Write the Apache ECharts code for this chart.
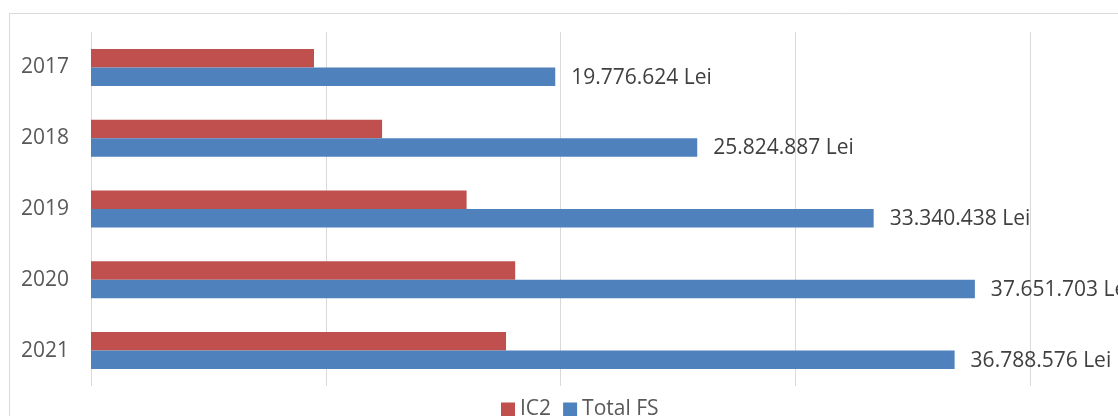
<!DOCTYPE html>
<html>
<head>
    <meta charset="utf-8">
    <script type="text/javascript" src="https://cdn.jsdelivr.net/npm/echarts@6/dist/echarts.min.js"></script>
    <style>
        html, body { margin: 0; padding: 0; background: #fff; }
    </style>
</head>
<body>
<div id="main" style="width:1118px;height:416px;"></div>

<script type="text/javascript">
    // ani (categorii) si valori
    var years = ['2017', '2018', '2019', '2020', '2021'];
    var ic2 = [9500000, 12400000, 16000000, 18070000, 17680000];
    var totalFS = [19776624, 25824887, 33340438, 37651703, 36788576];
    var totalLabels = ['19.776.624 Lei', '25.824.887 Lei', '33.340.438 Lei', '37.651.703 Lei', '36.788.576 Lei'];

    var font = 'Open Sans';
    var myChart = echarts.init(document.getElementById('main'));

    var option = {
        animation: false,
        backgroundColor: '#fff',
        textStyle: { fontFamily: font },
        graphic: [{
            type: 'rect',
            shape: { x: 9.5, y: 13.5, width: 1120, height: 420 },
            style: { fill: 'none', stroke: '#d9d9d9', lineWidth: 1 },
            silent: true
        }],
        legend: {
            data: ['IC2', 'Total FS'],
            top: 394,
            left: 496,
            itemWidth: 14,
            itemHeight: 14,
            itemGap: 12,
            icon: 'rect',
            textStyle: { fontFamily: font, fontSize: 21, color: '#595959' }
        },
        grid: {
            left: 91,
            right: 88,
            top: 32,
            bottom: 30,
            containLabel: false
        },
        xAxis: {
            type: 'value',
            min: 0,
            max: 40000000,
            interval: 10000000,
            axisLabel: { show: false },
            axisLine: { show: false },
            axisTick: { show: false },
            splitLine: { show: true, lineStyle: { color: '#d9d9d9', width: 1 } }
        },
        yAxis: {
            type: 'category',
            data: years,
            inverse: true,
            axisLine: { show: false },
            axisTick: { show: false },
            axisLabel: { fontFamily: font, fontSize: 21, color: '#595959', margin: 22 }
        },
        series: [
            {
                name: 'IC2',
                type: 'bar',
                data: ic2,
                barWidth: 18.5,
                barGap: '0%',
                itemStyle: { color: '#C0504D' }
            },
            {
                name: 'Total FS',
                type: 'bar',
                data: totalFS,
                barWidth: 18.5,
                barGap: '0%',
                itemStyle: { color: '#4F81BD' },
                label: {
                    show: true,
                    position: 'right',
                    distance: 16,
                    offset: [0, 1],
                    fontFamily: font,
                    fontSize: 21,
                    color: '#404040',
                    formatter: function (p) { return totalLabels[p.dataIndex]; }
                }
            }
        ]
    };
    myChart.setOption(option);
</script>
</body>
</html>
